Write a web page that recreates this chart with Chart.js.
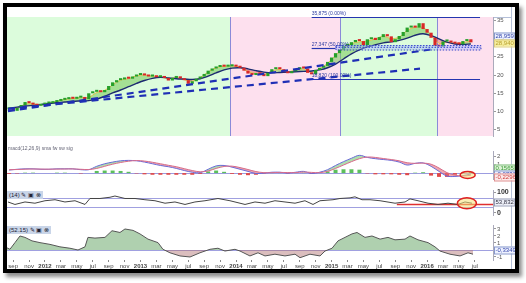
<!DOCTYPE html>
<html>
<head>
<meta charset="utf-8">
<script src="https://cdn.jsdelivr.net/npm/chart.js@4.4.1/dist/chart.umd.min.js"></script>
<style>
  html, body { margin: 0; padding: 0; width: 526px; height: 283px; overflow: hidden; background: #fff; font-family: "Liberation Sans", Arial, sans-serif; }
  #frame { position: absolute; left: 3px; top: 3px; width: 508px; height: 262px; border: 4px solid #000; background: #fff; box-shadow: 3px 4px 4px rgba(0,0,0,.45); }
  .rule { position: absolute; background: #b4bfd8; }
  canvas { position: absolute; left: 7px; }
  .cap { position: absolute; left: 7px; height: 8px; line-height: 8px; font-size: 6px; color: #223; background: #c9d5e8; padding: 0 2px; }
  .note { position: absolute; left: 8px; top: 145px; font-size: 5px; color: #667; }
</style>
</head>
<body>
<div id="frame"></div>
<div class="rule" style="left:7px;top:17px;width:504px;height:1px"></div>
<div class="rule" style="left:511px;top:7px;width:1px;height:262px"></div>
<canvas id="main" width="508" height="144" style="top:7px"></canvas>
<canvas id="macd" width="508" height="48" style="top:146px"></canvas>
<canvas id="rsi" width="508" height="45" style="top:185px"></canvas>
<canvas id="osc" width="508" height="50" style="top:220px"></canvas>
<div class="note">macd(12,26,9) sma fw sw sig</div>
<div class="cap" style="top:191px">(14) ✎ ▣ ⊗</div>
<div class="cap" style="top:226px">(52.15) ✎ ▣ ⊗</div>
<script>
// x values are months counted from Jan 2012
const X_MIN = -4.77;
const X_MAX = 56.28;

const xTickLabels = ['sep', 'nov', '2012', 'mar', 'may', 'jul', 'sep', 'nov', '2013', 'mar', 'may', 'jul',
  'sep', 'nov', '2014', 'mar', 'may', 'jul', 'sep', 'nov', '2015', 'mar', 'may', 'jul',
  'sep', 'nov', '2016', 'mar', 'may', 'jul'];
const xTickMonths = xTickLabels.map((_, i) => -4 + 2 * i);

// background regimes on the price panel
const zoneEdges = [X_MIN, 23.24, 37.06, 49.25, X_MAX];
const zoneColors = ['#dcfcdc', '#fde0ee', '#dcfcdc', '#fde0ee'];

// half-monthly closes, Aug 2011 .. Jun 2016
const closes = [10.6, 10.2, 11.0, 11.8, 12.6, 12.3, 11.9, 11.6, 11.9, 12.2,
  12.3, 12.6, 12.9, 13.2, 13.4, 13.6, 13.5, 13.8, 14.0, 13.4,
  15.0, 15.4, 15.6, 15.3, 15.9, 17.0, 18.0, 18.6, 18.8, 19.1,
  19.0, 19.6, 20.0, 20.3, 19.9, 19.6, 19.8, 19.4, 19.6, 19.2,
  18.5, 19.2, 19.6, 19.1, 18.6, 17.6, 18.3, 19.0, 19.6, 20.3,
  21.2, 21.8, 22.2, 22.6, 22.3, 22.4, 22.6, 22.3, 22.0, 21.2,
  20.4, 20.0, 20.5, 20.2, 19.7, 20.6, 21.6, 21.9, 21.6, 20.8,
  20.5, 21.0, 21.6, 22.1, 21.8, 20.6, 20.2, 21.4, 22.0, 22.5,
  23.6, 24.8, 26.0, 27.0, 28.0, 28.2, 29.0, 29.6, 29.3, 28.2,
  29.8, 30.2, 29.6, 30.4, 31.2, 30.6, 29.0, 29.8, 30.7, 31.8,
  33.0, 33.3, 33.0, 34.2, 32.6, 31.6, 30.2, 28.0, 27.8, 29.2,
  29.4, 28.9, 28.6, 28.4, 29.3, 29.8, 28.96];
const closeMonths = closes.map((_, i) => -4.5 + i * 0.5);

// monthly moving averages
const maSlow = [10.9, 11.2, 11.5, 11.7, 11.9, 12.2, 12.4, 12.6, 12.8, 12.9,
  13.0, 13.4, 14.2, 15.1, 15.9, 16.8, 17.7, 18.5, 19.1, 19.4,
  19.2, 19.0, 18.9, 18.8, 19.0, 19.7, 20.6, 21.4, 21.9, 22.0,
  21.7, 21.2, 20.8, 20.6, 20.7, 20.8, 20.9, 21.0, 21.1, 21.4,
  22.0, 23.0, 24.4, 25.8, 26.9, 27.7, 28.3, 28.8, 29.1, 29.5,
  30.1, 30.9, 31.3, 30.8, 29.9, 29.0, 28.5, 28.4, 28.5];
const maFast = [10.8, 10.9, 12.0, 12.1, 11.8, 12.2, 12.8, 13.3, 13.6, 13.8,
  13.9, 15.2, 15.8, 17.3, 18.6, 19.0, 19.8, 20.0, 19.7, 19.5,
  19.0, 19.3, 18.7, 18.3, 19.3, 20.8, 22.0, 22.4, 22.5, 22.1,
  20.9, 20.4, 20.1, 21.1, 21.5, 20.9, 21.4, 21.7, 20.8, 21.7,
  23.2, 25.4, 27.4, 28.6, 29.1, 29.3, 29.9, 30.6, 30.0, 30.4,
  32.2, 33.1, 33.0, 31.0, 28.7, 29.0, 28.7, 28.9, 29.3];
const monthly = maSlow.map((_, i) => -4.5 + i);

// dashed trend lines [month, price]
const trendUpper = [[-4.65, 10.12], [48.62, 27.06]];
const trendLower = [[-4.65, 10.75], [47.11, 21.75]];

// fibonacci retracement
const fibLevels = [35.875, 27.347, 18.82];
const fibLabels = ['35,875 (0.00%)', '27,347 (50.00%)', '18,820 (100.00%)'];

// MACD panel
const macdLine = [0.35, 0.45, 0.5, 0.5, 0.45, 0.45, 0.5, 0.5, 0.5, 0.4,
  0.4, 0.8, 1.1, 1.3, 1.45, 1.5, 1.45, 1.3, 1.1, 0.9,
  0.75, 0.55, 0.3, 0.1, 0.05, 0.45, 0.85, 0.9, 0.7, 0.45,
  0.2, -0.05, 0.0, 0.1, 0.1, 0.0, 0.1, 0.2, -0.05, 0.1,
  0.4, 0.9, 1.35, 1.75, 2.1, 1.85, 1.7, 1.6, 1.5, 1.3,
  0.95, 1.15, 1.2, 0.8, 0.2, -0.35, -0.4, -0.3, -0.1];
const signalLine = [0.4, 0.42, 0.46, 0.48, 0.47, 0.46, 0.47, 0.48, 0.49, 0.45,
  0.42, 0.55, 0.8, 1.05, 1.25, 1.4, 1.48, 1.42, 1.28, 1.1,
  0.92, 0.75, 0.52, 0.3, 0.15, 0.25, 0.55, 0.78, 0.82, 0.65,
  0.42, 0.18, 0.05, 0.05, 0.08, 0.06, 0.06, 0.12, 0.08, 0.05,
  0.2, 0.55, 0.95, 1.35, 1.7, 1.9, 1.85, 1.72, 1.6, 1.45,
  1.22, 1.15, 1.18, 1.05, 0.6, 0.05, -0.25, -0.35, -0.25];
const histogram = [-0.1, -0.05, 0.05, 0.05, 0.0, 0.0, 0.05, 0.05, 0.0, -0.05,
  0.0, 0.25, 0.3, 0.3, 0.25, 0.15, -0.05, -0.15, -0.2, -0.2,
  -0.2, -0.2, -0.2, -0.2, -0.1, 0.2, 0.3, 0.15, -0.1, -0.2,
  -0.25, -0.2, -0.05, 0.05, 0.05, -0.05, 0.05, 0.05, -0.1, 0.05,
  0.2, 0.4, 0.45, 0.45, 0.4, -0.05, -0.15, -0.15, -0.15, -0.2,
  -0.25, 0.05, 0.1, -0.3, -0.45, -0.45, -0.2, 0.05, 0.15];

// RSI(14)
const rsiMonths = [-4.65, -3.77, -2.51, -1.26, 0, 1.26, 2.51, 3.77, 5.03, 5.65,
  6.91, 8.17, 8.79, 10.05, 11.31, 12.56, 13.82, 15.08, 16.33, 17.59,
  18.84, 20.1, 21.73, 23.24, 25.13, 26.38, 27.64, 28.89, 30.15, 31.41,
  32.66, 33.67, 34.55, 36.18, 37.06, 38.32, 38.94, 39.82, 40.83, 42.09,
  43.97, 45.23, 45.85, 46.86, 48.12, 49.37, 50.63, 51.88, 52.76, 53.64];
const rsiValues = [53, 41, 53, 47, 59, 64, 53, 59, 41, 70,
  70, 76, 82, 70, 70, 64, 59, 47, 53, 41,
  53, 59, 70, 59, 41, 53, 47, 59, 53, 47,
  59, 41, 59, 64, 70, 73, 78, 64, 64, 59,
  47, 53, 68, 59, 47, 41, 47, 41, 53, 47];

// oscillator (52,15)
const oscMonths = [-4.77, -4.4, -3.77, -3.14, -2.51, -1.63, -0.63, 0.63, 1.88, 3.14,
  4.15, 5.03, 5.4, 6.28, 7.54, 8.42, 9.42, 10.05, 11.06, 11.93,
  12.94, 14.2, 14.82, 15.7, 16.96, 18.22, 19.47, 20.73, 21.73, 22.61,
  23.87, 24.5, 25.75, 26.76, 27.64, 28.89, 30.15, 31.41, 32.04, 33.29,
  34.55, 35.18, 36.06, 36.81, 37.69, 38.57, 39.2, 40.2, 41.08, 42.09,
  43.09, 43.97, 45.23, 45.85, 46.86, 48.12, 48.99, 49.62, 50.88, 52.14,
  53.14, 53.77];
const oscValues = [0.3, 0.1, 1.05, 2.0, 1.8, 1.3, 1.05, 0.8, 0.45, 0.25,
  0.0, 0.45, 1.8, 1.7, 1.8, 2.75, 2.5, 3.0, 2.8, 2.3,
  1.55, 1.05, 0.1, -0.4, -0.85, -1.0, -0.4, 0.1, 0.25, -0.15,
  0.1, -0.15, -0.85, -0.4, -0.85, -0.6, -0.85, -0.6, -1.1, -0.6,
  -0.85, -0.15, 0.25, 1.3, 1.8, 2.3, 2.5, 1.8, 2.0, 1.55,
  1.8, 1.45, 1.55, 2.0, 1.45, 1.05, 0.45, -0.15, -0.6, -0.85,
  -0.4, -0.6];

const FONT = 'Liberation Sans';

function points(xs, ys) {
  return xs.map((x, i) => ({ x, y: ys[i] }));
}

function lineSet(data, color, width, extra) {
  return Object.assign({
    type: 'line', data, borderColor: color, borderWidth: width,
    pointRadius: 0, tension: 0, fill: false
  }, extra);
}

function xAxis(show) {
  return {
    type: 'linear', min: X_MIN, max: X_MAX, display: show, offset: false,
    afterBuildTicks: s => { s.ticks = xTickMonths.map(v => ({ value: v })); },
    afterFit: s => { s.height = 10; },
    grid: { drawOnChartArea: false, offset: false, tickLength: 2, color: '#888' },
    border: { display: false },
    ticks: {
      autoSkip: false, maxRotation: 0, padding: 1, color: '#444',
      font: c => ({ family: FONT, size: 6, weight: /^\d/.test(xTickLabels[c.index] || '') ? 'bold' : 'normal' }),
      callback: (v, i) => xTickLabels[i]
    }
  };
}

function yAxis(min, max, ticks, bold) {
  return {
    position: 'right', min, max,
    afterFit: s => { s.width = 22; },
    afterBuildTicks: s => { s.ticks = ticks.map(v => ({ value: v })); },
    grid: { drawOnChartArea: false, tickLength: 3, color: '#999' },
    border: { color: '#aab' },
    ticks: { autoSkip: false, padding: 1, color: bold ? '#333' : '#555', font: { family: FONT, size: bold ? 7 : 6, weight: bold ? 'bold' : 'normal' } }
  };
}

// draws the panel extras: zones, reference lines, boxes, ellipses and value tags
function panel(cfg) {
  return {
    id: 'panel',
    beforeDatasetsDraw(chart) {
      const { ctx, chartArea: a, scales: { x, y } } = chart;
      ctx.save();
      if (cfg.zones) {
        for (let i = 0; i < zoneColors.length; i++) {
          const x0 = x.getPixelForValue(zoneEdges[i]);
          const x1 = x.getPixelForValue(zoneEdges[i + 1]);
          ctx.fillStyle = zoneColors[i];
          ctx.fillRect(x0, a.top, x1 - x0, a.bottom - a.top);
        }
        ctx.strokeStyle = '#8a8ad8';
        ctx.lineWidth = 1;
        for (let i = 1; i < zoneEdges.length - 1; i++) {
          const px = Math.round(x.getPixelForValue(zoneEdges[i])) + 0.5;
          ctx.beginPath(); ctx.moveTo(px, a.top); ctx.lineTo(px, a.bottom); ctx.stroke();
        }
      }
      (cfg.hLines || []).forEach(h => {
        const py = Math.round(y.getPixelForValue(h.value)) + 0.5;
        const x0 = h.from != null ? x.getPixelForValue(h.from) : a.left;
        const x1 = h.to != null ? x.getPixelForValue(h.to) : a.right;
        ctx.strokeStyle = h.color;
        ctx.lineWidth = h.width || 1;
        ctx.beginPath(); ctx.moveTo(x0, py); ctx.lineTo(x1, py); ctx.stroke();
      });
      ctx.restore();
    },
    afterDatasetsDraw(chart) {
      const { ctx, scales: { x, y } } = chart;
      ctx.save();
      if (cfg.box) {
        const b = cfg.box;
        const x0 = x.getPixelForValue(b.from), x1 = x.getPixelForValue(b.to);
        const y0 = y.getPixelForValue(b.high), y1 = y.getPixelForValue(b.low);
        ctx.fillStyle = 'rgba(160,180,255,0.45)';
        ctx.fillRect(x0, y0, x1 - x0, y1 - y0);
        ctx.strokeStyle = '#2f3fc8';
        ctx.lineWidth = 1;
        ctx.setLineDash([1.5, 1.5]);
        ctx.strokeRect(x0 + 0.5, y0 + 0.5, x1 - x0, y1 - y0);
        ctx.beginPath(); ctx.moveTo(x0, (y0 + y1) / 2); ctx.lineTo(x1, (y0 + y1) / 2); ctx.stroke();
        ctx.setLineDash([]);
      }
      (cfg.texts || []).forEach(t => {
        ctx.font = '5px "' + FONT + '"';
        ctx.fillStyle = '#2a3aa0';
        ctx.textBaseline = 'bottom';
        ctx.fillText(t.text, x.getPixelForValue(t.x), y.getPixelForValue(t.y) - 1);
      });
      (cfg.ellipses || []).forEach(e => {
        ctx.beginPath();
        ctx.ellipse(x.getPixelForValue(e.x), y.getPixelForValue(e.y), e.rx, e.ry, 0, 0, Math.PI * 2);
        ctx.fillStyle = 'rgba(245,225,120,0.55)';
        ctx.fill();
        ctx.strokeStyle = '#e02020';
        ctx.lineWidth = 1.5;
        ctx.stroke();
      });
      ctx.restore();
    },
    afterDraw(chart) {
      const { ctx, chartArea: a, scales: { y } } = chart;
      ctx.save();
      (cfg.tags || []).forEach(t => {
        const py = Math.round(y.getPixelForValue(t.value) + (t.dy || 0));
        ctx.font = '6px "' + FONT + '"';
        const w = ctx.measureText(t.text).width + 3;
        ctx.fillStyle = t.bg;
        ctx.fillRect(a.right + 1, py - 3.5, w, 7);
        ctx.strokeStyle = t.border;
        ctx.lineWidth = 1;
        ctx.strokeRect(a.right + 1.5, py - 3, w - 1, 7);
        ctx.fillStyle = t.color;
        ctx.textBaseline = 'middle';
        ctx.fillText(t.text, a.right + 2.5, py + 0.5);
      });
      ctx.restore();
    }
  };
}

function options(y, showX, padding) {
  return {
    responsive: false, animation: false, events: [],
    layout: { padding },
    plugins: { legend: { display: false }, tooltip: { enabled: false } },
    scales: { x: xAxis(showX), y }
  };
}

// price panel
const candles = closes.map((c, i) => ({ x: closeMonths[i], y: [i ? closes[i - 1] : c, c] }));
const candleColors = candles.map(d => d.y[1] >= d.y[0] ? '#27a02a' : '#d82828');

new Chart(document.getElementById('main'), {
  type: 'line',
  data: {
    datasets: [
      lineSet(points(monthly, maFast), '#e2c24a', 1, {
        order: 4, tension: 0.35,
        fill: { target: 1, above: 'rgba(120,200,90,0.55)', below: 'rgba(235,105,105,0.5)' }
      }),
      lineSet(points(monthly, maSlow), '#1c2a70', 1.4, { order: 3, tension: 0.35 }),
      {
        type: 'bar', order: 2, data: candles, backgroundColor: candleColors,
        barPercentage: 0.85, categoryPercentage: 0.95, minBarLength: 2
      },
      lineSet(trendUpper.map(p => ({ x: p[0], y: p[1] })), '#1f2fb5', 2.2, { order: 0, borderDash: [7, 5] }),
      lineSet(trendLower.map(p => ({ x: p[0], y: p[1] })), '#1f2fb5', 2.2, { order: 0, borderDash: [7, 5] })
    ]
  },
  options: options(yAxis(3.3, 35.9, [5, 10, 15, 20, 25, 30, 35]), false, { top: 10, bottom: 5, left: 0, right: 0 }),
  plugins: [panel({
    zones: true,
    hLines: [
      { value: fibLevels[0], from: 33.5, to: 54.65, color: '#2535b0', width: 1.2 },
      { value: fibLevels[1], from: 33.5, to: 36.5, color: '#2535b0', width: 1.2 },
      { value: fibLevels[2], from: 33.5, to: 54.65, color: '#2535b0', width: 1.2 }
    ],
    box: { from: 36.5, to: 54.7, low: 27.0, high: 28.2 },
    texts: fibLevels.map((v, i) => ({ x: 33.5, y: v, text: fibLabels[i] })),
    tags: [
      { value: closes[closes.length - 1], dy: -6, text: '28,959', bg: '#eef2ff', border: '#8899cc', color: '#3344aa' },
      { value: 28.94, dy: 1, text: '28,940', bg: '#f6eea0', border: '#e0d080', color: '#b8a030' }
    ]
  })]
});

// MACD panel
new Chart(document.getElementById('macd'), {
  type: 'line',
  data: {
    datasets: [
      lineSet(points(monthly, macdLine), '#6a6ad8', 1, {
        order: 2, tension: 0.35,
        fill: { target: 1, above: 'rgba(120,200,120,0.6)', below: 'rgba(232,110,120,0.6)' }
      }),
      lineSet(points(monthly, signalLine), '#d86a8a', 1, { order: 1, tension: 0.35 }),
      {
        type: 'bar', order: 3, data: points(monthly, histogram),
        backgroundColor: histogram.map(v => v >= 0 ? '#5cbf5c' : '#e04848'),
        barPercentage: 0.5, categoryPercentage: 1
      }
    ]
  },
  options: options(yAxis(-0.7, 2.61, [1, 2]), false, { top: 5, bottom: 5, left: 0, right: 0 }),
  plugins: [panel({
    hLines: [{ value: 0, color: '#9c9ce0' }],
    ellipses: [{ x: 53.1, y: -0.22, rx: 7.5, ry: 3.5 }],
    tags: [
      { value: 0.1565, dy: -4, text: '0,1565', bg: '#dcf2d4', border: '#88c088', color: '#3a9a3a' },
      { value: -0.0731, dy: 0, text: '-0,0731', bg: '#eef0ff', border: '#8899cc', color: '#3344aa' },
      { value: -0.2296, dy: 2, text: '-0,2296', bg: '#fde8e8', border: '#e09090', color: '#d04040' }
    ]
  })]
});

// RSI panel
new Chart(document.getElementById('rsi'), {
  type: 'line',
  data: { datasets: [lineSet(points(rsiMonths, rsiValues), '#444', 1)] },
  options: options(yAxis(-10.3, 110.3, [0, 100], true), false, { top: 5, bottom: 5, left: 0, right: 0 }),
  plugins: [panel({
    hLines: [
      { value: 70, color: '#a0a0e0' },
      { value: 30, color: '#a0a0e0' },
      { value: 44.8, from: 44.2, color: '#e03030', width: 1.5 }
    ],
    ellipses: [{ x: 53.0, y: 46.5, rx: 9.5, ry: 5.5 }],
    tags: [{ value: 53.832, dy: 0, text: '53,832', bg: '#eef0f8', border: '#9aa0b8', color: '#334' }]
  })]
});

// oscillator panel with the date axis
new Chart(document.getElementById('osc'), {
  type: 'line',
  data: {
    datasets: [lineSet(points(oscMonths, oscValues), '#555', 1, {
      fill: { target: { value: 0 }, above: 'rgba(110,170,110,0.55)', below: 'rgba(175,110,110,0.45)' }
    })]
  },
  options: options(yAxis(-1.43, 3.57, [-1, 0, 1, 2, 3]), true, { top: 5, bottom: 0, left: 0, right: 0 }),
  plugins: [panel({
    hLines: [{ value: 0, color: '#a0a0e0' }],
    tags: [{ value: -0.3349, dy: -2, text: '-0,3349', bg: '#eef2ff', border: '#8899cc', color: '#3344aa' }]
  })]
});
</script>
</body>
</html>
